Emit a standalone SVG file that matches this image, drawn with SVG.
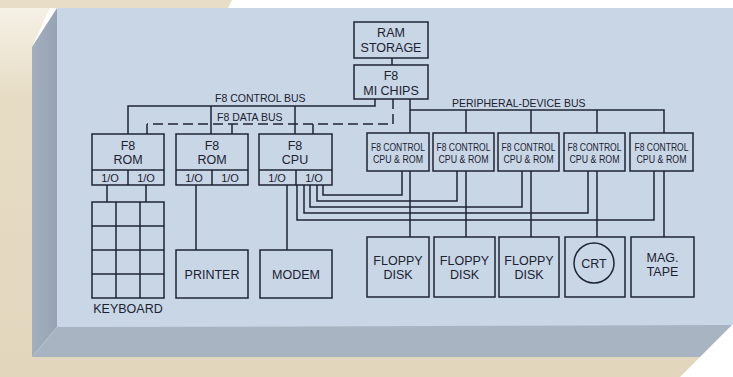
<svg xmlns="http://www.w3.org/2000/svg" width="733" height="377" viewBox="0 0 733 377">
<defs>
<linearGradient id="beigeL" x1="0" y1="0" x2="0" y2="1">
<stop offset="0" stop-color="#f6f1e6"/>
<stop offset="0.25" stop-color="#e6dcc4"/>
<stop offset="1" stop-color="#e2d7bd"/>
</linearGradient>
<linearGradient id="bevelL" x1="0" y1="0" x2="1" y2="0">
<stop offset="0" stop-color="#a4afbd"/>
<stop offset="1" stop-color="#96a3b4"/>
</linearGradient>
<style>
.box{fill:none;stroke:#1f2533;stroke-width:1.5}
.w{fill:none;stroke:#1f2533;stroke-width:1.5}
.dash{fill:none;stroke:#1f2533;stroke-width:1.5;stroke-dasharray:10 5}
text{font-family:"Liberation Sans",Arial,sans-serif;fill:#1c2230;text-anchor:middle}
.m{font-size:12.5px}
.io{font-size:11px}
.lbl{font-size:10.5px;text-anchor:start}
.c{font-size:10px}
</style>
</defs>
<!-- background -->
<rect x="0" y="0" width="733" height="377" fill="#ffffff"/>
<polygon points="0,0 232,0 228,8 0,8" fill="#e8dec8"/>
<polygon points="0,8 50,8 32,47 32,377 0,377" fill="url(#beigeL)"/>
<rect x="0" y="355" width="733" height="22" fill="#e2d7bc"/>
<!-- board -->
<polygon points="57,8 733,8 733,326 57,327" fill="#c8d6e6"/>
<polygon points="57,8 32,47 32,357 57,327" fill="url(#bevelL)"/>
<polygon points="32,357 57,327 733,325 733,357" fill="#a8b4c2"/>
<polygon points="680,377 733,324 733,377" fill="#ffffff"/>

<g id="connectors">
<line class="w" x1="392" y1="58" x2="392" y2="65"/>
<path class="w" d="M375,99 V106 H128 V134"/>
<path class="w" d="M211,106 V134 M295,106 V134"/>
<path class="dash" d="M393,99 V124 H147"/>
<path class="w" d="M147,124 V134 M232,124 V134 M313,124 V134"/>
<path class="w" d="M410,99 V133 M410,110 H664 V133 M466,110 V133 M531,110 V133 M597,110 V133"/>
<path class="w" d="M410,171 V237 M466,171 V237 M531,171 V237 M597,171 V237 M664,171 V237"/>
<path class="w" d="M323,185 V195 H402 V171"/>
<path class="w" d="M317,185 V201 H457 V171"/>
<path class="w" d="M310,185 V207 H522 V171"/>
<path class="w" d="M304,185 V213 H588 V171"/>
<path class="w" d="M297,185 V220 H654 V171"/>
<path class="w" d="M107,185 V202 M146,185 V202"/>
<path class="w" d="M196,185 V250"/>
<path class="w" d="M287,185 V250"/>
<text class="lbl" x="215" y="102">F8 CONTROL BUS</text>
<text class="lbl" x="217" y="121">F8 DATA BUS</text>
<text class="lbl" x="452" y="107">PERIPHERAL-DEVICE BUS</text>
</g>

<g id="ram">
<rect class="box" x="354" y="22" width="74" height="36"/>
<text class="m" x="391" y="37">RAM</text>
<text class="m" x="391" y="52">STORAGE</text>
</g>
<g id="mi">
<rect class="box" x="354" y="65" width="74" height="34"/>
<text class="m" x="391" y="80">F8</text>
<text class="m" x="391" y="95">MI CHIPS</text>
</g>

<g id="rom1">
<rect class="box" x="92" y="134" width="72" height="51"/>
<line class="w" x1="92" y1="170" x2="164" y2="170"/>
<line class="w" x1="128" y1="170" x2="128" y2="185"/>
<text class="m" x="128" y="150">F8</text>
<text class="m" x="128" y="164">ROM</text>
<text class="io" x="110" y="182">1/O</text>
<text class="io" x="146" y="182">1/O</text>
</g>
<g id="rom2">
<rect class="box" x="176" y="134" width="72" height="51"/>
<line class="w" x1="176" y1="170" x2="248" y2="170"/>
<line class="w" x1="212" y1="170" x2="212" y2="185"/>
<text class="m" x="212" y="150">F8</text>
<text class="m" x="212" y="164">ROM</text>
<text class="io" x="194" y="182">1/O</text>
<text class="io" x="230" y="182">1/O</text>
</g>
<g id="cpu">
<rect class="box" x="259" y="134" width="73" height="51"/>
<line class="w" x1="259" y1="170" x2="332" y2="170"/>
<line class="w" x1="296" y1="170" x2="296" y2="185"/>
<text class="m" x="295" y="150">F8</text>
<text class="m" x="295" y="164">CPU</text>
<text class="io" x="277" y="182">1/O</text>
<text class="io" x="314" y="182">1/O</text>
</g>

<g id="ctrl1"><rect class="box" x="367" y="133" width="62" height="38"/><text class="c" x="398" y="151" textLength="54" lengthAdjust="spacingAndGlyphs">F8 CONTROL</text><text class="c" x="398" y="163" textLength="50" lengthAdjust="spacingAndGlyphs">CPU &amp; ROM</text></g>
<g id="ctrl2"><rect class="box" x="433" y="133" width="61" height="38"/><text class="c" x="463.5" y="151" textLength="54" lengthAdjust="spacingAndGlyphs">F8 CONTROL</text><text class="c" x="463.5" y="163" textLength="50" lengthAdjust="spacingAndGlyphs">CPU &amp; ROM</text></g>
<g id="ctrl3"><rect class="box" x="498" y="133" width="61" height="38"/><text class="c" x="528.5" y="151" textLength="54" lengthAdjust="spacingAndGlyphs">F8 CONTROL</text><text class="c" x="528.5" y="163" textLength="50" lengthAdjust="spacingAndGlyphs">CPU &amp; ROM</text></g>
<g id="ctrl4"><rect class="box" x="564" y="133" width="61" height="38"/><text class="c" x="594.5" y="151" textLength="54" lengthAdjust="spacingAndGlyphs">F8 CONTROL</text><text class="c" x="594.5" y="163" textLength="50" lengthAdjust="spacingAndGlyphs">CPU &amp; ROM</text></g>
<g id="ctrl5"><rect class="box" x="630" y="133" width="63" height="38"/><text class="c" x="661.5" y="151" textLength="54" lengthAdjust="spacingAndGlyphs">F8 CONTROL</text><text class="c" x="661.5" y="163" textLength="50" lengthAdjust="spacingAndGlyphs">CPU &amp; ROM</text></g>

<g id="keyboard">
<rect class="box" x="92" y="202" width="72" height="96"/>
<path class="w" d="M116,202 V298 M140,202 V298 M92,226 H164 M92,250 H164 M92,274 H164"/>
<text class="m" x="128" y="313">KEYBOARD</text>
</g>
<g id="printer"><rect class="box" x="176" y="250" width="72" height="48"/><text class="m" x="212" y="279">PRINTER</text></g>
<g id="modem"><rect class="box" x="260" y="250" width="72" height="48"/><text class="m" x="296" y="279">MODEM</text></g>

<g id="floppy1"><rect class="box" x="367" y="237" width="62" height="60"/><text class="m" x="398" y="265">FLOPPY</text><text class="m" x="398" y="279">DISK</text></g>
<g id="floppy2"><rect class="box" x="434" y="237" width="61" height="60"/><text class="m" x="464.5" y="265">FLOPPY</text><text class="m" x="464.5" y="279">DISK</text></g>
<g id="floppy3"><rect class="box" x="499" y="237" width="60" height="60"/><text class="m" x="529" y="265">FLOPPY</text><text class="m" x="529" y="279">DISK</text></g>
<g id="crt"><rect class="box" x="565" y="237" width="60" height="60"/><circle class="box" cx="594" cy="263" r="20"/><text class="m" x="594" y="267.5">CRT</text></g>
<g id="magtape"><rect class="box" x="631" y="237" width="63" height="60"/><text class="m" x="662.5" y="262">MAG.</text><text class="m" x="662.5" y="276">TAPE</text></g>
</svg>
